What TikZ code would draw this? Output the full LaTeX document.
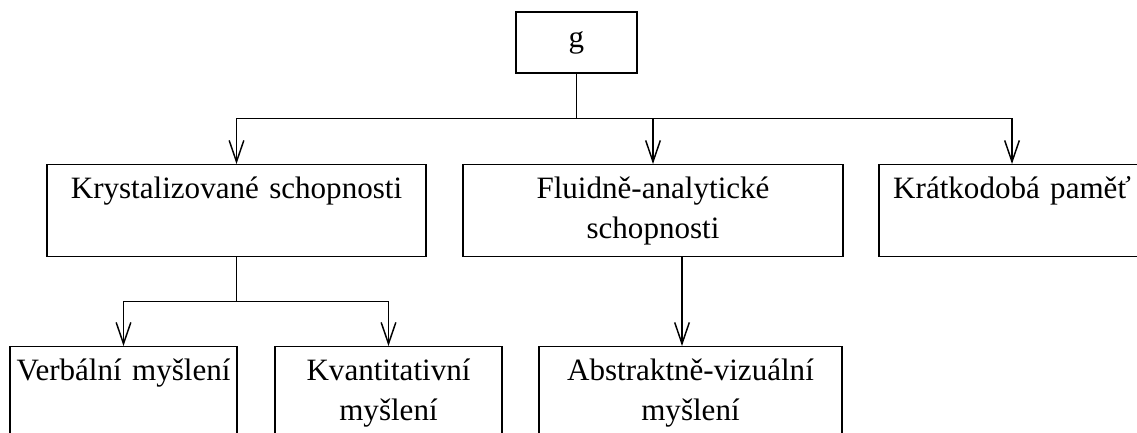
\documentclass[tikz,border=0pt]{standalone}
\usepackage{fontspec}
\setmainfont{Liberation Serif}
\usetikzlibrary{positioning,arrows.meta}

\begin{document}
\begin{tikzpicture}
		[x=0.75pt, y=-0.75pt,
		font=\fontsize{23.3pt}{29.5pt}\selectfont,
		box/.style={draw, line width=1.1pt, inner sep=0pt, align=center,
			anchor=north, text height=25.5pt, text depth=43.5pt},
		link/.style={draw, line width=1.1pt, -{Straight Barb[length=16pt,width=11pt]}},
		]
		\useasboundingbox (0,0) rectangle (1137,432);
		\clip (0,0) rectangle (1137,432);
		\node[draw, line width=1.1pt, minimum width=90.75pt, minimum height=45.75pt] (g) at (576.5,42.5) {g};
		% first level
		\node[box, text width=284.25pt] (krys) at (236.5,164) {Krystalizované schopnosti};
		\node[box, text width=285pt] (fluid) at (653,164) {Fluidně-analytické\\ schopnosti};
		\node[box, text width=199.5pt] (pamet) at (1012,164) {Krátkodobá paměť};
		% second level
		\node[box, text width=170.25pt] (verb) at (123.5,346) {Verbální myšlení};
		\node[box, text width=170.25pt] (kvant) at (388.5,346) {Kvantitativní\\ myšlení};
		\node[box, text width=227.25pt] (abstr) at (690.5,346) {Abstraktně-vizuální\\ myšlení};
		
		\draw[link] (g.south) -- ++(0,45) -| (krys.north);
		\draw[link] (g.south) -- ++(0,45) -| (fluid.north);
		\draw[link] (g.south) -- ++(0,45) -| (pamet.north);
		\draw[link] (krys.south) -- ++(0,44) -| (verb.north);
		\draw[link] (krys.south) -- ++(0,44) -| (kvant.north);
		%\draw[link] (fluid.south) -- (abstr.north);
		\draw[link] ([xshift=21.75pt]fluid.south) -- ([xshift=-6.375pt]abstr.north);
		
	\end{tikzpicture}
\end{document}
